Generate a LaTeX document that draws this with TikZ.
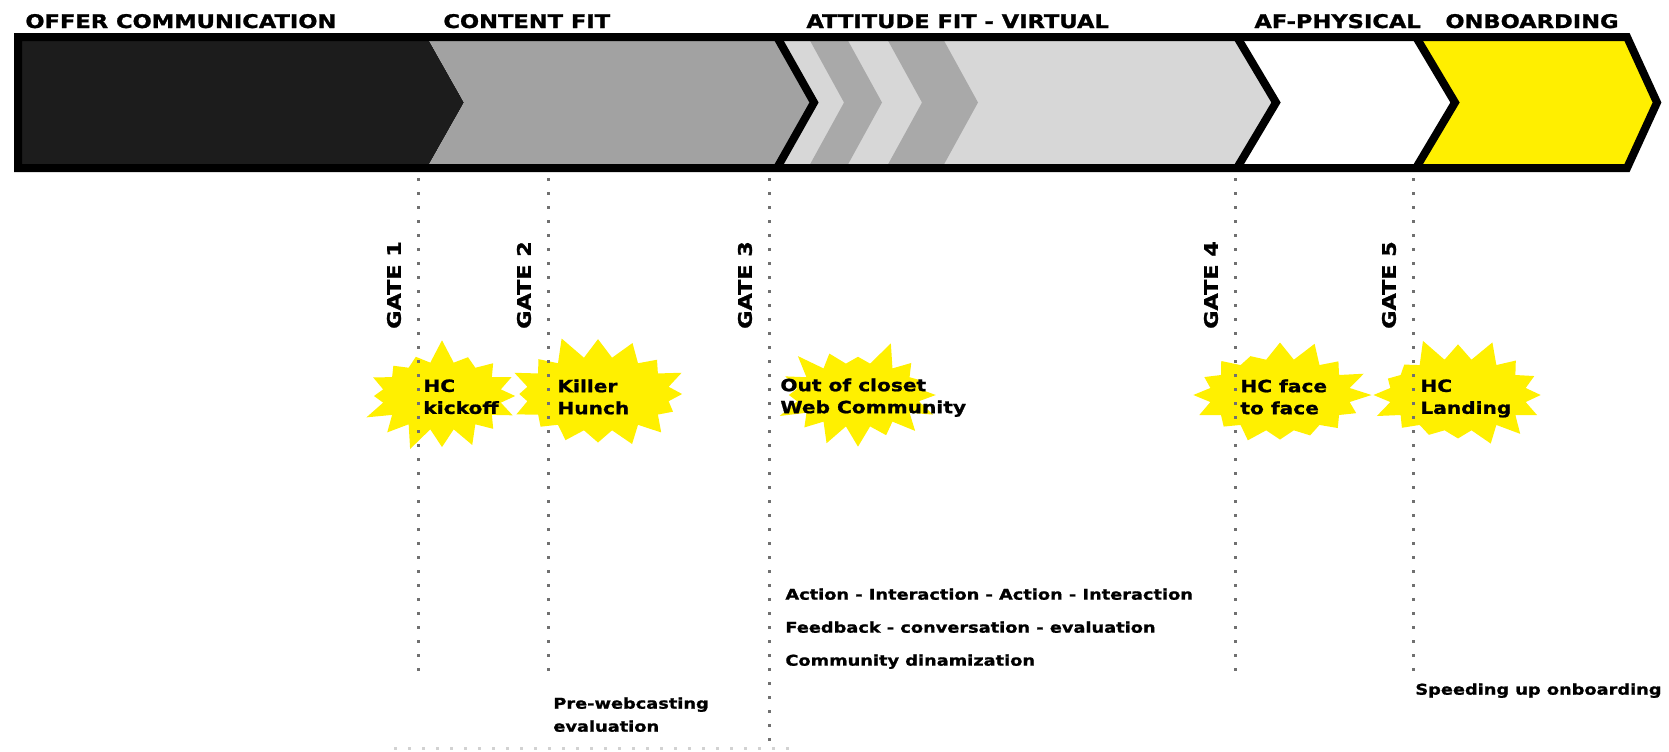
\documentclass[tikz,border=0pt]{standalone}
\usepackage{fontspec}
\newfontfamily\heavy{DejaVu Sans}[FakeStretch=1.2, BoldFeatures={FakeBold=1.2}]
\usetikzlibrary{positioning,shapes.symbols}

\definecolor{offerblack}{HTML}{1C1C1C}
\definecolor{contentgray}{HTML}{A2A2A2}
\definecolor{virtuallight}{HTML}{D7D7D7}
\definecolor{virtualdark}{HTML}{A9A9A9}
\definecolor{onboardyellow}{HTML}{FFEF00}
\definecolor{burstyellow}{HTML}{FFF000}
\definecolor{gatedots}{HTML}{707070}

\tikzset{
  phasetitle/.style={font=\heavy\bfseries\fontsize{9.4}{11}\selectfont, anchor=base west, inner sep=0pt},
  gatetitle/.style={font=\heavy\bfseries\fontsize{9.3}{11}\selectfont, rotate=90, inner sep=0pt},
  gateline/.style={gatedots, line width=1.5pt, dash pattern=on 1.5pt off 5.5pt},
  burst/.style={starburst, fill=burstyellow, draw=none, starburst points=16, starburst point height=12pt, inner sep=0pt},
  bursttext/.style={font=\heavy\bfseries\fontsize{8.4}{11}\selectfont, align=left, anchor=north west, inner sep=0pt},
  notetext/.style={font=\heavy\bfseries\fontsize{7.4}{11.5}\selectfont, align=left, anchor=north west, inner sep=0pt},
  barline/.style={line width=4pt, line join=miter}
}

\begin{document}
\begin{tikzpicture}[x=0.5pt,y=-0.5pt]
\useasboundingbox (0,0) rectangle (1669,751);

% phase bar
\fill[offerblack] (18,37) -- (427,37) -- (464,102.5) -- (427,168) -- (18,168) -- cycle;
\fill[contentgray] (427,37) -- (777,37) -- (814,102.5) -- (777,168) -- (427,168) -- (464,102.5) -- cycle;
\fill[virtuallight] (777,37) -- (1237,37) -- (1276,102.5) -- (1237,168) -- (777,168) -- (814,102.5) -- cycle;
\foreach \a/\b in {808/846, 886/942}
    \fill[virtualdark] (\a,37) -- (\b,37) -- (\b+36,102.5) -- (\b,168) -- (\a,168) -- (\a+36,102.5) -- cycle;
\fill[white] (1237,37) -- (1416,37) -- (1455,102.5) -- (1416,168) -- (1237,168) -- (1276,102.5) -- cycle;
\fill[onboardyellow] (1416,37) -- (1627,37) -- (1657,102.5) -- (1627,168) -- (1416,168) -- (1455,102.5) -- cycle;
\draw[barline] (18,37) -- (1627,37) -- (1657,102.5) -- (1627,168) -- (18,168) -- cycle;
\foreach \b/\t in {777/814, 1237/1276, 1416/1455}
    \draw[barline] (\b,37) -- (\t,102.5) -- (\b,168);

% phase titles
\node[phasetitle] (offer) at (25,28) {OFFER COMMUNICATION};
\node[phasetitle] (content) at (443,28) {CONTENT FIT};
\node[phasetitle] (virtual) at (806,28) {ATTITUDE FIT - VIRTUAL};
\node[phasetitle] (physical) at (1254,28) {AF-PHYSICAL};
\node[phasetitle] (onboarding) at (1445,28) {ONBOARDING};

% bursts
\foreach \x/\y/\w/\h/\r [count=\n] in {442/396/84pt/58pt/7, 598/394/96pt/61pt/11, 858/395/86pt/56pt/23, 1280/395/95pt/60pt/31, 1458/395/93pt/60pt/5}
    \node[burst, minimum width=\w, minimum height=\h, random starburst=\r] (burst\n) at (\x,\y) {};

% gates
\foreach \x/\e [count=\n] in {418/680, 548/682, 769/748, 1235/680, 1413/672} {
    \coordinate (gatetop\n) at (\x,178);
    \coordinate (gateend\n) at (\x,\e);
    \draw[gateline] (gatetop\n) -- (gateend\n);
    \node[gatetitle] (gatetitle\n) at (\x-24,285) {GATE \n};
}
\coordinate (baseleft) at (394,748);
\coordinate (baseright) at (793,748);
\draw[gateline, gray!35] (baseleft) -- (baseright);

% burst texts
\node[bursttext] (kickoff) at (423,379) {HC\\kickoff};
\node[bursttext] (hunch) at (557,379) {Killer\\Hunch};
\node[bursttext] (closet) at (780,378) {Out of closet\\Web Community};
\node[bursttext] (facetoface) at (1240,379) {HC face\\to face};
\node[bursttext] (landing) at (1420,379) {HC\\Landing};

% notes
\node[notetext] (prewebcast) at (553,697) {Pre-webcasting\\evaluation};
\node[notetext, font=\heavy\bfseries\fontsize{7.4}{16.5}\selectfont] (actions) at (785,588)
    {Action - Interaction - Action - Interaction\\Feedback - conversation - evaluation\\Community dinamization};
\node[notetext] (speeding) at (1415,683) {Speeding up onboarding};
\end{tikzpicture}
\end{document}
